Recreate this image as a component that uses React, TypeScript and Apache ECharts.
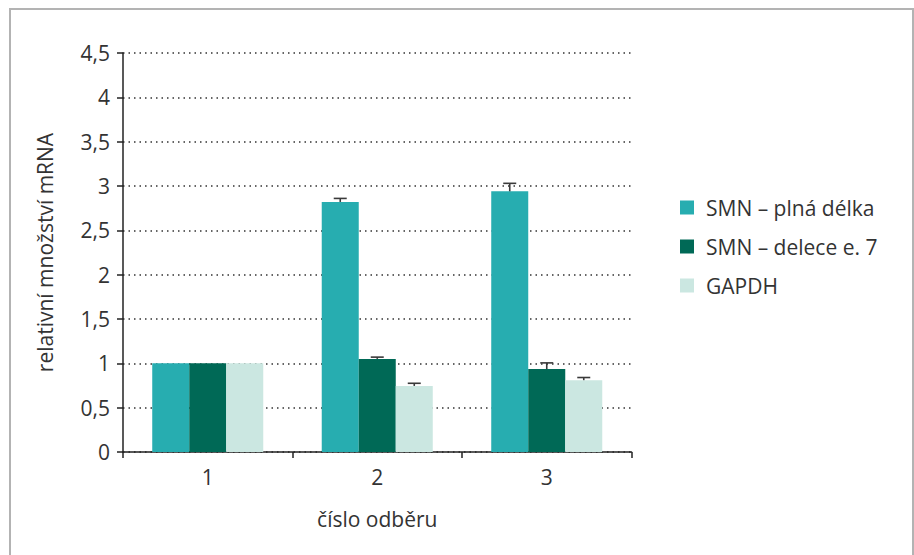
import React, { useEffect, useRef } from "react";
import * as echarts from "echarts";

const categories = ["1", "2", "3"];
const seriesNames = ["SMN – plná délka", "SMN – delece e. 7", "GAPDH"];
const fullLength = [1, 2.82, 2.94];
const deletion7 = [1, 1.05, 0.935];
const gapdh = [1, 0.745, 0.81];
const errFull = [0, 0.04, 0.09];
const errDel = [0, 0.02, 0.07];
const errGapdh = [0, 0.03, 0.03];
const colors = ["#27adb0", "#006956", "#cbe7e1"];
const yTicks = ["0", "0,5", "1", "1,5", "2", "2,5", "3", "3,5", "4", "4,5"];

const FONT = "Open Sans";
const FS = 21;
const CAT_GAP = 0.345;

export default function App() {
  const ref = useRef<HTMLDivElement>(null);
  useEffect(() => {
    document.body.style.margin = "0";
    const chart = echarts.init(ref.current!, null, { renderer: "svg" });
    const values = [fullLength, deletion7, gapdh];
    const errs = [errFull, errDel, errGapdh];
    const barSeries = values.map((v, i) => ({
      type: "bar",
      name: seriesNames[i],
      data: v,
      barGap: "0%",
      barCategoryGap: CAT_GAP * 100 + "%",
      itemStyle: { color: colors[i] },
      z: 2,
    }));
    const errData: number[][] = [];
    values.forEach((v, s) =>
      v.forEach((val, c) => {
        if (errs[s][c] > 0) errData.push([c, val, errs[s][c], s]);
      })
    );
    const errSeries = {
      type: "custom",
      name: "err",
      data: errData,
      z: 3,
      silent: true,
      renderItem: (params: any, api: any) => {
        const c = api.value(0);
        const val = api.value(1);
        const e = api.value(2);
        const s = api.value(3);
        const band = api.size([1, 0])[0];
        const bw = (band * (1 - CAT_GAP)) / 3;
        const center = api.coord([c, val]);
        const x = center[0] + (s - 1) * bw;
        const yTop = api.coord([c, val + e])[1];
        const yBase = center[1];
        const half = 6.5;
        const st = { stroke: "#3a3a3a", lineWidth: 1.6 };
        return {
          type: "group",
          children: [
            { type: "line", shape: { x1: x, y1: yBase, x2: x, y2: yTop }, style: st },
            { type: "line", shape: { x1: x - half, y1: yTop, x2: x + half, y2: yTop }, style: st },
          ],
        };
      },
    };
    chart.setOption({
      animation: false,
      textStyle: { fontFamily: FONT },
      graphic: [
        {
          type: "rect",
          shape: { x: 10, y: 9, width: 903, height: 580 },
          style: { fill: "none", stroke: "#b3b3b3", lineWidth: 2 },
          silent: true,
        },
      ],
      grid: { left: 123, top: 53, right: 282.5, bottom: 103 },
      legend: {
        data: seriesNames,
        orient: "vertical",
        left: 680,
        top: 197,
        padding: 0,
        itemWidth: 14,
        itemHeight: 14,
        itemGap: 18,
        icon: "rect",
        textStyle: { fontFamily: FONT, fontSize: FS, lineHeight: 20, color: "#333", padding: [0, 0, 0, 7] },
      },
      xAxis: {
        type: "category",
        data: categories,
        name: "číslo odběru",
        nameLocation: "middle",
        nameGap: 56,
        nameTextStyle: { fontFamily: FONT, fontSize: FS, color: "#333" },
        axisLine: { lineStyle: { color: "#222", width: 1.5 } },
        axisTick: { show: true, length: 6, alignWithLabel: false, lineStyle: { color: "#222", width: 1.5 } },
        axisLabel: { fontFamily: FONT, fontSize: FS, color: "#333", margin: 14 },
      },
      yAxis: {
        type: "value",
        min: 0,
        max: 4.5,
        interval: 0.5,
        name: "relativní množství mRNA",
        nameLocation: "middle",
        nameGap: 68,
        nameTextStyle: { fontFamily: FONT, fontSize: FS, color: "#333" },
        axisLine: { show: true, lineStyle: { color: "#222", width: 1.5 } },
        axisTick: { show: true, length: 6, lineStyle: { color: "#222", width: 1.5 } },
        axisLabel: {
          fontFamily: FONT,
          fontSize: FS,
          color: "#333",
          margin: 13,
          formatter: (v: number) => yTicks[Math.round(v * 2)] ?? String(v),
        },
        splitLine: { show: true, lineStyle: { color: "#333", type: [1.5, 4], width: 1.5 } },
      },
      series: [...barSeries, errSeries],
    });
    return () => chart.dispose();
  }, []);
  return <div ref={ref} style={{ width: 914, height: 555 }} />;
}
